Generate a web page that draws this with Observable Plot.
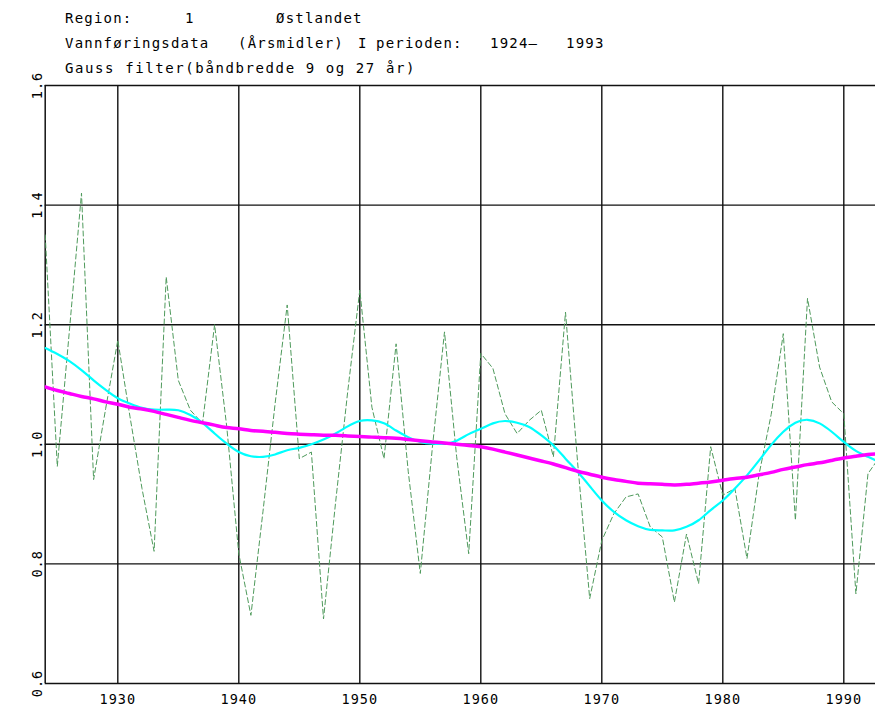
<!DOCTYPE html>
<html>
<head>
<meta charset="utf-8">
<script src="https://cdn.jsdelivr.net/npm/d3@7"></script>
<script src="https://cdn.jsdelivr.net/npm/@observablehq/plot@0.6"></script>
<style>
  html, body { margin: 0; padding: 0; background: #fff; overflow: hidden; }
  #wrap { position: relative; width: 875px; height: 708px; }
  #header { position: relative; width: 875px; height: 70px; font-family: "DejaVu Sans Mono", monospace; font-size: 14px; letter-spacing: 1.2px; color: #000; }
  #header span { position: absolute; white-space: pre; line-height: 1; }
</style>
</head>
<body>
<div id="wrap">
  <div id="header"></div>
  <div id="chart"></div>
</div>
<script>
// ---- data ----
const years = d3.range(1924, 1994);
const annualMeans = [
  1.35, 0.963, 1.19, 1.42, 0.941, 1.06, 1.174, 1.047, 0.926, 0.821,
  1.28, 1.107, 1.057, 1.035, 1.20, 1.03, 0.817, 0.714, 0.888, 1.068,
  1.233, 0.976, 0.987, 0.708, 0.903, 1.088, 1.258, 1.062, 0.976, 1.168,
  0.955, 0.784, 0.995, 1.188, 0.98, 0.817, 1.152, 1.127, 1.051, 1.018,
  1.04, 1.057, 0.979, 1.221, 0.97, 0.742, 0.839, 0.884, 0.912, 0.917,
  0.862, 0.845, 0.736, 0.85, 0.767, 0.996, 0.915, 0.926, 0.809, 0.95,
  1.05, 1.185, 0.873, 1.244, 1.129, 1.071, 1.051, 0.75, 0.951, 0.98
];
const gauss9 = [
  1.161, 1.151, 1.139, 1.124, 1.107, 1.091, 1.077, 1.068, 1.061, 1.058,
  1.058, 1.057, 1.049, 1.036, 1.018, 1.001, 0.987, 0.98, 0.979, 0.983,
  0.99, 0.994, 1.0, 1.008, 1.018, 1.03, 1.039, 1.04, 1.035, 1.023,
  1.012, 1.004, 1.001, 1.001, 1.006, 1.017, 1.026, 1.035, 1.039, 1.036,
  1.029, 1.015, 0.998, 0.976, 0.954, 0.93, 0.906, 0.887, 0.873, 0.863,
  0.857, 0.856, 0.856, 0.862, 0.873, 0.89, 0.906, 0.926, 0.948, 0.973,
  0.999, 1.021, 1.036, 1.041, 1.035, 1.021, 1.004, 0.989, 0.979, 0.97
];
const gauss27 = [
  1.096, 1.09, 1.085, 1.08, 1.076, 1.071, 1.067, 1.062, 1.059, 1.055,
  1.05, 1.045, 1.04, 1.036, 1.032, 1.028, 1.026, 1.023, 1.022, 1.02,
  1.018, 1.017, 1.016, 1.015, 1.015, 1.014, 1.013, 1.012, 1.011, 1.01,
  1.008, 1.006, 1.004, 1.002, 1.0, 0.998, 0.996, 0.992, 0.987, 0.982,
  0.977, 0.972, 0.967, 0.961, 0.955, 0.95, 0.945, 0.941, 0.938, 0.935,
  0.934, 0.933, 0.932, 0.933, 0.935, 0.937, 0.94, 0.943, 0.945, 0.949,
  0.953, 0.958, 0.962, 0.966, 0.969, 0.973, 0.977, 0.98, 0.983, 0.984
];
const xTicks = [1930, 1940, 1950, 1960, 1970, 1980, 1990];
const yTicks = [0.6, 0.8, 1.0, 1.2, 1.4, 1.6];

const headerItems = [
  {text: "Region:", x: 65, y: 11},
  {text: "1", x: 185, y: 11},
  {text: "Østlandet", x: 276, y: 11},
  {text: "Vannføringsdata", x: 65, y: 36},
  {text: "(Årsmidler)", x: 238, y: 36},
  {text: "I", x: 358, y: 36},
  {text: "perioden:", x: 376, y: 36},
  {text: "1924—", x: 490, y: 36},
  {text: "1993", x: 566, y: 36},
  {text: "Gauss filter(båndbredde 9 og 27 år)", x: 65, y: 61, spacing: "1.6px"}
];

// ---- header ----
const header = document.getElementById("header");
for (const h of headerItems) {
  const s = document.createElement("span");
  s.textContent = h.text;
  s.style.left = h.x + "px";
  s.style.top = h.y + "px";
  if (h.spacing) s.style.letterSpacing = h.spacing;
  header.appendChild(s);
}

// ---- chart ----
const raw = years.map((yr, i) => ({year: yr, value: annualMeans[i]}));
const s9 = years.map((yr, i) => ({year: yr, value: gauss9[i]}));
const s27 = years.map((yr, i) => ({year: yr, value: gauss27[i]}));

const marginLeft = 44.7;
const width = 875;
const pxPerYear = 12.1;
const xMax = 1924 + (width - marginLeft) / pxPerYear;

const chart = Plot.plot({
  width: width,
  height: 638,
  marginLeft: marginLeft,
  marginRight: 0,
  marginTop: 15,
  marginBottom: 25,
  style: {fontFamily: "DejaVu Sans Mono, monospace", fontSize: "13px", color: "#000", background: "#fff", letterSpacing: "1px"},
  x: {domain: [1924, xMax], axis: null},
  y: {domain: [0.6, 1.6], axis: null},
  marks: [
    Plot.gridX(xTicks, {stroke: "#111", strokeOpacity: 1, strokeWidth: 1.4}),
    Plot.gridY(yTicks, {stroke: "#111", strokeOpacity: 1, strokeWidth: 1.4}),
    Plot.ruleX([1924], {stroke: "#111", strokeWidth: 1.5}),
    Plot.line(raw, {x: "year", y: "value", stroke: "#4f9a5c", strokeWidth: 1, strokeDasharray: "5,3", clip: true}),
    Plot.line(s9, {x: "year", y: "value", stroke: "#00ffff", strokeWidth: 2.2, curve: "natural", clip: true}),
    Plot.line(s27, {x: "year", y: "value", stroke: "#ff00ff", strokeWidth: 3.5, curve: "natural", clip: true}),
    Plot.text(xTicks, {x: d => d, frameAnchor: "bottom", dy: 20, text: d => String(d), fontSize: 13.5}),
    Plot.text(yTicks, {y: d => d, frameAnchor: "left", dx: -8, rotate: -90, text: d => d.toFixed(1), fontSize: 13.5, textAnchor: "middle", lineAnchor: "middle"})
  ]
});
document.getElementById("chart").appendChild(chart);
</script>
</body>
</html>
